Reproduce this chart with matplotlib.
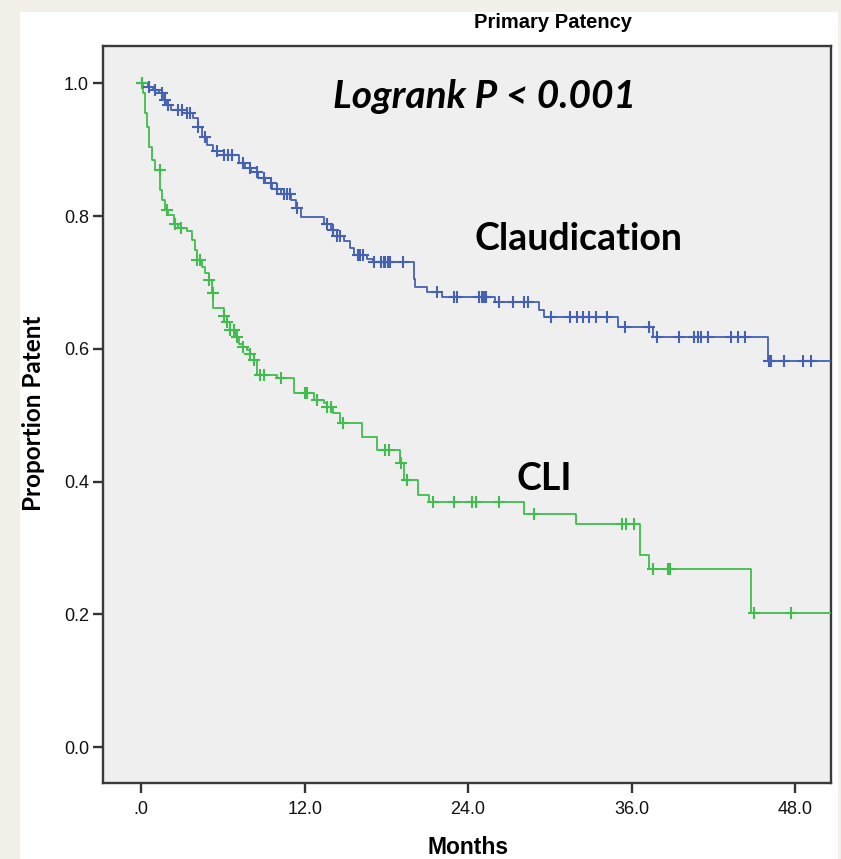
import numpy as np
import matplotlib
matplotlib.use("Agg")
import matplotlib.pyplot as plt
from matplotlib.patches import Rectangle

# Claudication: event times (months) and survival after each step
claud_t = [0, 0.5, 0.9, 1.3, 1.6, 1.9, 2.2, 3.0, 3.8, 4.2, 4.5, 4.8, 5.3, 5.6,
           7.2, 7.6, 8.1, 8.6, 9.1, 9.6, 10.3, 11.0, 11.4, 11.7, 13.4, 13.9,
           14.4, 14.9, 15.3, 15.6, 16.6, 17.0, 20.0, 20.1, 21.0, 22.1, 26.0,
           29.2, 29.6, 35.0, 37.6, 46.0]
claud_s = [1.0, 0.995, 0.990, 0.985, 0.975, 0.967, 0.960, 0.955, 0.948, 0.935,
           0.920, 0.907, 0.898, 0.892, 0.880, 0.873, 0.866, 0.858, 0.850, 0.841,
           0.833, 0.824, 0.812, 0.799, 0.789, 0.779, 0.770, 0.762, 0.752, 0.742,
           0.736, 0.731, 0.705, 0.694, 0.686, 0.679, 0.671, 0.659, 0.648, 0.633,
           0.618, 0.582]
claud_cens = [0.05, 0.54, 1.03, 1.52, 1.76, 2.0, 2.74, 2.99, 3.36, 3.6, 4.2, 4.7,
              5.57, 6.05, 6.4, 6.67, 7.5, 8.0, 8.5, 9.0, 9.5, 10.0, 10.5, 10.7,
              10.96, 11.45, 13.65, 14.1, 14.4, 14.6, 15.9, 16.1, 16.3, 17.1, 17.6,
              17.8, 17.9, 18.1, 18.3, 19.2, 21.7, 23.0, 23.2, 24.8, 25.0, 25.2,
              25.3, 26.3, 27.3, 28.1, 28.4, 30.1, 31.5, 32.0, 32.4, 32.9, 33.4,
              34.2, 35.5, 37.3, 37.9, 39.5, 40.6, 40.9, 41.1, 41.6, 43.3, 43.8,
              44.3, 46.05, 46.2, 47.2, 48.6, 49.2]

# CLI
cli_t = [0, 0.17, 0.3, 0.42, 0.54, 0.79, 1.03, 1.4, 1.52, 1.76, 2.0, 2.4, 2.74,
         3.36, 3.73, 3.97, 4.1, 4.46, 4.7, 4.95, 5.2, 5.3, 6.05, 6.3, 6.54, 6.9,
         7.15, 7.5, 7.77, 8.0, 8.26, 8.5, 9.98, 11.2, 12.7, 13.4, 13.65, 14.1,
         14.6, 16.2, 17.3, 19.0, 19.3, 20.3, 21.1, 28.1, 31.9, 36.6, 37.25, 44.8]
cli_s = [1.0, 0.985, 0.955, 0.935, 0.905, 0.885, 0.870, 0.839, 0.824, 0.809,
         0.802, 0.789, 0.782, 0.777, 0.764, 0.749, 0.734, 0.724, 0.714, 0.704,
         0.684, 0.661, 0.649, 0.641, 0.628, 0.618, 0.608, 0.603, 0.598, 0.593,
         0.583, 0.561, 0.556, 0.533, 0.523, 0.518, 0.513, 0.503, 0.488, 0.468,
         0.448, 0.428, 0.402, 0.380, 0.370, 0.352, 0.336, 0.289, 0.269, 0.2015]
cli_cens = [0.05, 1.35, 1.9, 2.5, 2.9, 4.1, 4.3, 4.95, 5.25, 6.05, 6.3, 6.54,
            6.8, 7.0, 7.5, 8.0, 8.26, 8.7, 9.0, 10.3, 12.0, 12.2, 12.9, 13.65,
            13.9, 14.8, 17.9, 18.2, 19.05, 19.5, 21.4, 23.0, 24.3, 24.6, 26.3,
            28.8, 35.3, 35.6, 36.2, 37.55, 38.65, 38.8, 45.0, 47.7]

x_end = 50.6
xticks = [0, 12, 24, 36, 48]
xtick_labels = ['.0', '12.0', '24.0', '36.0', '48.0']
yticks = [0.0, 0.2, 0.4, 0.6, 0.8, 1.0]
ytick_labels = ['0.0', '0.2', '0.4', '0.6', '0.8', '1.0']

blue = '#4461b4'
green = '#3fbd4d'

fig = plt.figure(figsize=(8.41, 8.59), dpi=100, facecolor='#f3efe9')
fig.patches.append(Rectangle((20 / 841, 0), 818 / 841, 1 - 12 / 859,
                             transform=fig.transFigure, facecolor='white',
                             edgecolor='none', zorder=-10))
ax = fig.add_axes([103 / 841, 1 - 783 / 859, (830.5 - 103) / 841, (783 - 46) / 859])
ax.set_zorder(2)
ax.set_facecolor('#efefef')


def km_line(t, s, cens, color):
    tt = list(t) + [x_end]
    ss = list(s) + [s[-1]]
    ax.step(tt, ss, where='post', color=color, lw=1.3, zorder=3)
    idx = np.searchsorted(np.array(t), np.array(cens), side='right') - 1
    cy = np.array(s)[idx]
    ax.plot(cens, cy, ls='none', marker='+', ms=9, mew=1.5, color=color, zorder=4)


km_line(claud_t, claud_s, claud_cens, blue)
km_line(cli_t, cli_s, cli_cens, green)

ax.set_xlim(-2.8, x_end)
ax.set_ylim(-0.054, 1.0565)
ax.set_xticks(xticks)
ax.set_xticklabels(xtick_labels)
ax.set_yticks(yticks)
ax.set_yticklabels(ytick_labels)
for sp in ax.spines.values():
    sp.set_color('#3a3a3a')
    sp.set_linewidth(1.7)
ax.tick_params(axis='both', length=7, width=1.7, color='#333333',
               labelsize=13, labelcolor='#111111')
ax.tick_params(axis='x', pad=6)
ax.tick_params(axis='y', pad=3)
for lab in ax.get_xticklabels() + ax.get_yticklabels():
    lab.set_family('Liberation Sans')

fig.text(553 / 841, 1 - 22 / 859, 'Primary Patency', ha='center', va='center',
         fontsize=14.5, fontweight='bold', family='Liberation Sans')
fig.text(468 / 841, 1 - 848 / 859, 'Months', ha='center', va='center',
         fontsize=16.5, fontweight='bold', family='Liberation Sans')
fig.text(34 / 841, 1 - 413 / 859, 'Proportion Patent', ha='center', va='center',
         rotation=90, fontsize=17.5, fontweight='bold', family='Lato')

ax.text(25.2, 0.963, 'Logrank P < 0.001', ha='center', va='baseline',
        fontsize=28, fontweight='bold', fontstyle='italic', family='Lato')
ax.text(32.1, 0.749, 'Claudication', ha='center', va='baseline',
        fontsize=27, fontweight='bold', family='Lato')
ax.text(29.6, 0.387, 'CLI', ha='center', va='baseline',
        fontsize=27, fontweight='bold', family='Lato')

fig.savefig('out.png', dpi=100, facecolor=fig.get_facecolor())
